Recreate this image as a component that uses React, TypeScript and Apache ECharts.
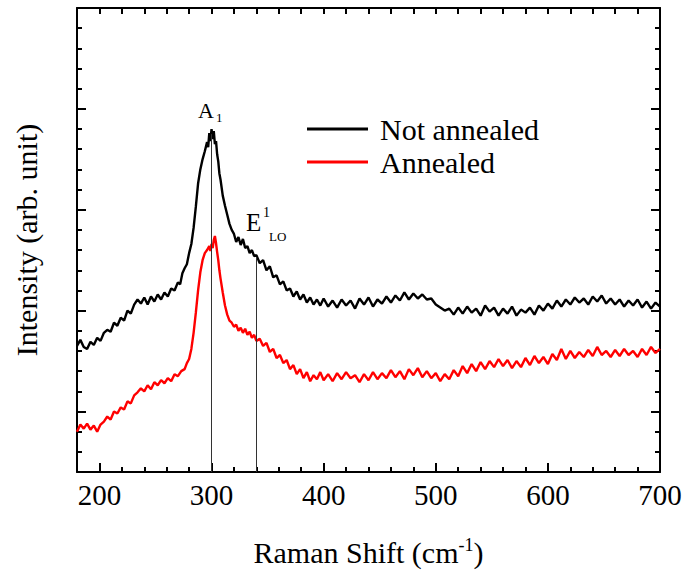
import React, { useEffect, useRef } from "react";
import * as echarts from "echarts";

const FONT = "Liberation Serif";

const seriesNames = ["Not annealed", "Annealed"];

// Raman shift (cm-1), intensity (arb. unit)
const notAnnealed: [number, number][] = [
  [180, 1.25], [183, 1.31], [186, 1.24], [189, 1.22], [192, 1.29], [195, 1.26], [198, 1.33], [201, 1.3],
  [204, 1.38], [207, 1.41], [210, 1.39], [213, 1.48], [216, 1.45], [219, 1.53], [222, 1.5], [225, 1.6],
  [228, 1.57], [231, 1.66], [234, 1.71], [237, 1.67], [240, 1.73], [243, 1.66], [246, 1.74], [249, 1.69],
  [252, 1.76], [255, 1.71], [258, 1.78], [261, 1.74], [264, 1.82], [267, 1.8], [270, 1.88], [272, 1.86],
  [274, 1.97], [276, 2.02], [278, 2.06], [280, 2.17], [282, 2.26], [284, 2.42], [286, 2.63], [288, 2.86],
  [290, 3.0], [292, 3.1], [294, 3.18], [296, 3.27], [297, 3.22], [298, 3.36], [299, 3.28], [300, 3.4],
  [301, 3.3], [302, 3.38], [303, 3.25], [304, 3.28], [305, 3.15], [306, 3.08], [307, 2.96], [308, 2.9],
  [310, 2.74], [312, 2.64], [314, 2.55], [316, 2.46], [318, 2.4], [320, 2.36], [322, 2.28], [324, 2.33],
  [326, 2.25], [328, 2.31], [330, 2.22], [332, 2.24], [334, 2.17], [336, 2.2], [338, 2.14], [340, 2.15],
  [343, 2.07], [346, 2.1], [349, 2.0], [352, 2.04], [355, 1.93], [358, 1.95], [361, 1.86], [364, 1.89],
  [367, 1.8], [370, 1.82], [373, 1.74], [376, 1.79], [379, 1.71], [382, 1.76], [385, 1.68], [388, 1.73],
  [391, 1.66], [394, 1.71], [397, 1.65], [400, 1.72], [404, 1.64], [408, 1.7], [412, 1.63], [416, 1.71],
  [420, 1.65], [424, 1.7], [428, 1.62], [432, 1.72], [436, 1.66], [440, 1.73], [444, 1.64], [448, 1.71],
  [452, 1.67], [456, 1.74], [460, 1.68], [464, 1.75], [468, 1.7], [472, 1.78], [476, 1.71], [480, 1.77],
  [484, 1.72], [488, 1.76], [492, 1.71], [496, 1.72], [500, 1.66], [504, 1.63], [508, 1.6], [512, 1.62],
  [516, 1.56], [520, 1.63], [524, 1.57], [528, 1.64], [532, 1.58], [536, 1.62], [540, 1.55], [544, 1.65],
  [548, 1.59], [552, 1.63], [556, 1.55], [560, 1.62], [564, 1.57], [568, 1.64], [572, 1.55], [576, 1.61],
  [580, 1.58], [584, 1.63], [588, 1.56], [592, 1.65], [596, 1.6], [600, 1.67], [604, 1.62], [608, 1.7],
  [612, 1.64], [616, 1.71], [620, 1.66], [624, 1.73], [628, 1.68], [632, 1.72], [636, 1.66], [640, 1.74],
  [644, 1.69], [648, 1.75], [652, 1.67], [656, 1.72], [660, 1.66], [664, 1.71], [668, 1.64], [672, 1.7],
  [676, 1.65], [680, 1.71], [684, 1.63], [688, 1.69], [692, 1.62], [696, 1.68], [700, 1.64],
];

const annealed: [number, number][] = [
  [180, 0.4], [183, 0.47], [186, 0.43], [189, 0.48], [192, 0.42], [195, 0.46], [198, 0.4], [201, 0.47],
  [204, 0.5], [207, 0.55], [210, 0.52], [213, 0.6], [216, 0.58], [219, 0.64], [222, 0.62], [225, 0.7],
  [228, 0.68], [231, 0.76], [234, 0.79], [237, 0.83], [240, 0.8], [243, 0.86], [246, 0.82], [249, 0.89],
  [252, 0.86], [255, 0.91], [258, 0.88], [261, 0.93], [264, 0.9], [267, 0.97], [270, 0.95], [273, 1.0],
  [276, 1.02], [278, 1.08], [280, 1.12], [282, 1.22], [284, 1.38], [286, 1.58], [288, 1.8], [290, 1.98],
  [292, 2.1], [294, 2.17], [296, 2.2], [298, 2.24], [299, 2.19], [300, 2.26], [301, 2.22], [302, 2.3],
  [303, 2.34], [304, 2.27], [305, 2.18], [306, 2.1], [307, 2.0], [308, 1.92], [310, 1.78], [312, 1.65],
  [314, 1.56], [316, 1.5], [318, 1.48], [320, 1.44], [322, 1.46], [324, 1.4], [326, 1.43], [328, 1.38],
  [330, 1.42], [332, 1.36], [334, 1.39], [336, 1.33], [338, 1.36], [340, 1.3], [343, 1.32], [346, 1.25],
  [349, 1.28], [352, 1.19], [355, 1.22], [358, 1.13], [361, 1.16], [364, 1.08], [367, 1.11], [370, 1.02],
  [373, 1.06], [376, 0.97], [379, 1.02], [382, 0.93], [385, 0.99], [388, 0.9], [391, 0.96], [394, 0.92],
  [397, 0.99], [400, 0.91], [404, 0.97], [408, 0.9], [412, 0.98], [416, 0.92], [420, 0.99], [424, 0.93],
  [428, 0.96], [432, 0.89], [436, 0.97], [440, 0.91], [444, 0.99], [448, 0.92], [452, 0.98], [456, 0.93],
  [460, 1.01], [464, 0.94], [468, 1.0], [472, 0.92], [476, 1.02], [480, 0.96], [484, 1.03], [488, 0.94],
  [492, 1.0], [496, 0.93], [500, 0.98], [504, 0.9], [508, 0.97], [512, 0.92], [516, 1.01], [520, 0.95],
  [524, 1.05], [528, 0.98], [532, 1.07], [536, 1.0], [540, 1.09], [544, 1.02], [548, 1.1], [552, 1.04],
  [556, 1.12], [560, 1.05], [564, 1.11], [568, 1.03], [572, 1.1], [576, 1.04], [580, 1.13], [584, 1.06],
  [588, 1.15], [592, 1.08], [596, 1.14], [600, 1.07], [604, 1.17], [608, 1.11], [612, 1.22], [616, 1.12],
  [620, 1.2], [624, 1.13], [628, 1.19], [632, 1.14], [636, 1.21], [640, 1.15], [644, 1.24], [648, 1.16],
  [652, 1.2], [656, 1.14], [660, 1.21], [664, 1.15], [668, 1.22], [672, 1.16], [676, 1.2], [680, 1.14],
  [684, 1.22], [688, 1.16], [692, 1.24], [696, 1.18], [700, 1.22],
];

// Vertical mode marker lines: position (cm-1) and top (intensity)
const modeLines = [
  { x: 300, top: 3.35 },
  { x: 340, top: 2.13 },
];

const X_MIN = 180;
const X_MAX = 700;
const Y_MIN = 0;
const Y_MAX = 4.6;

export default function App() {
  const ref = useRef<HTMLDivElement>(null);

  useEffect(() => {
    if (!ref.current) return;
    const chart = echarts.init(ref.current, undefined, { renderer: "svg" });

    const axisLine = { show: true, onZero: false, lineStyle: { color: "#000", width: 2 } };
    const hiddenLine = { show: false, onZero: false };
    const tick = (len: number) => ({ show: true, inside: true, length: len, lineStyle: { color: "#000", width: 2 } });

    const option: any = {
      animation: false,
      textStyle: { fontFamily: FONT },
      grid: { left: 77, right: 26, top: 8, bottom: 103, containLabel: false },
      legend: {
        orient: "vertical",
        left: 307,
        top: 114,
        padding: 0,
        itemWidth: 61,
        itemHeight: 3,
        itemGap: 3,
        selectedMode: false,
        textStyle: { fontFamily: FONT, fontSize: 30, color: "#000", padding: [0, 0, 0, 7] },
        data: [
          { name: seriesNames[0], icon: "rect", itemStyle: { color: "#000" } },
          { name: seriesNames[1], icon: "rect", itemStyle: { color: "#ff0000" } },
        ],
      },
      xAxis: [
        {
          type: "value",
          position: "bottom",
          min: X_MIN,
          max: X_MAX,
          interval: 20,
          axisLine,
          axisTick: tick(5),
          axisLabel: { show: false },
          splitLine: { show: false },
        },
        {
          type: "value",
          position: "bottom",
          inverse: true,
          min: -X_MAX,
          max: -X_MIN,
          interval: 100,
          axisLine: hiddenLine,
          axisTick: tick(9),
          axisLabel: {
            show: true,
            margin: 8,
            showMaxLabel: false,
            fontFamily: FONT,
            fontSize: 29,
            color: "#000",
            formatter: (v: number) => String(-v),
          },
          splitLine: { show: false },
          name: "Raman Shift (cm{sup|-1})",
          nameLocation: "middle",
          nameGap: 64,
          nameTextStyle: {
            fontFamily: FONT,
            fontSize: 30,
            color: "#000",
            rich: {
              sup: { fontFamily: FONT, fontSize: 18, color: "#000", verticalAlign: "top", padding: [0, 0, 14, 0] },
            },
          },
        },
        {
          type: "value",
          position: "top",
          min: X_MIN,
          max: X_MAX,
          interval: 20,
          axisLine,
          axisTick: tick(6),
          axisLabel: { show: false },
          splitLine: { show: false },
        },
      ],
      yAxis: [
        {
          type: "value",
          position: "left",
          min: Y_MIN,
          max: Y_MAX,
          axisLine,
          axisTick: { show: false },
          axisLabel: { show: false },
          splitLine: { show: false },
          name: "Intensity (arb. unit)",
          nameLocation: "middle",
          nameGap: 36,
          nameTextStyle: { fontFamily: FONT, fontSize: 30, color: "#000" },
        },
        {
          type: "value",
          position: "left",
          inverse: true,
          min: 0,
          max: Y_MAX,
          interval: 0.2,
          axisLine: hiddenLine,
          axisTick: tick(5),
          axisLabel: { show: false },
          splitLine: { show: false },
        },
        {
          type: "value",
          position: "left",
          inverse: true,
          min: 0,
          max: Y_MAX,
          interval: 1,
          axisLine: hiddenLine,
          axisTick: tick(9),
          axisLabel: { show: false },
          splitLine: { show: false },
        },
        {
          type: "value",
          position: "right",
          inverse: true,
          min: 0,
          max: Y_MAX,
          interval: 0.2,
          axisLine,
          axisTick: tick(5),
          axisLabel: { show: false },
          splitLine: { show: false },
        },
        {
          type: "value",
          position: "right",
          inverse: true,
          min: 0,
          max: Y_MAX,
          interval: 1,
          axisLine: hiddenLine,
          axisTick: tick(9),
          axisLabel: { show: false },
          splitLine: { show: false },
        },
      ],
      series: [
        {
          name: seriesNames[1],
          type: "line",
          xAxisIndex: 0,
          yAxisIndex: 0,
          data: annealed,
          showSymbol: false,
          symbol: "none",
          lineStyle: { color: "#ff0000", width: 2.4 },
          itemStyle: { color: "#ff0000" },
          z: 3,
        },
        {
          name: seriesNames[0],
          type: "line",
          xAxisIndex: 0,
          yAxisIndex: 0,
          data: notAnnealed,
          showSymbol: false,
          symbol: "none",
          lineStyle: { color: "#000", width: 2.4 },
          itemStyle: { color: "#000" },
          z: 3,
          markLine: {
            silent: true,
            symbol: "none",
            label: { show: false },
            lineStyle: { color: "#333", width: 1, type: "solid" },
            data: modeLines.map((m) => [
              { coord: [m.x, m.top] },
              { coord: [m.x, Y_MIN] },
            ]),
          },
        },
      ],
      graphic: [
        { type: "text", x: 198, y: 110, style: { text: "A", fontFamily: FONT, fontSize: 22, fill: "#000", verticalAlign: "middle" } },
        { type: "text", x: 216, y: 117, style: { text: "1", fontFamily: FONT, fontSize: 13, fill: "#000", verticalAlign: "middle" } },
        { type: "text", x: 246, y: 222, style: { text: "E", fontFamily: FONT, fontSize: 25, fill: "#000", verticalAlign: "middle" } },
        { type: "text", x: 263, y: 212, style: { text: "1", fontFamily: FONT, fontSize: 14, fill: "#000", verticalAlign: "middle" } },
        { type: "text", x: 269, y: 236, style: { text: "LO", fontFamily: FONT, fontSize: 13, fill: "#000", verticalAlign: "middle" } },
      ],
    };

    chart.setOption(option);

    // Re-render once the fonts are ready, so the serif face is picked up.
    let disposed = false;
    const rerender = () => {
      if (disposed) return;
      chart.clear();
      chart.setOption(option);
    };
    const timers = [setTimeout(rerender, 150), setTimeout(rerender, 600)];
    const fontsApi: any = (document as any).fonts;
    if (fontsApi && fontsApi.ready) fontsApi.ready.then(rerender);

    return () => {
      disposed = true;
      timers.forEach((t) => clearTimeout(t));
      chart.dispose();
    };
  }, []);

  return <div ref={ref} style={{ width: 686, height: 575, position: "absolute", left: 0, top: 0 }} />;
}
